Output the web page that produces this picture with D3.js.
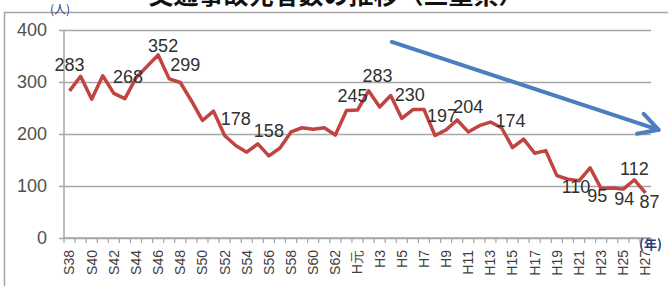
<!DOCTYPE html>
<html>
<head>
<meta charset="utf-8">
<script src="https://cdn.jsdelivr.net/npm/d3@7"></script>
<style>
  html, body { margin: 0; padding: 0; background: #fff; overflow: hidden; }
  text { font-family: "Liberation Sans", Arial, sans-serif; }
</style>
</head>
<body>
<script>
'use strict';

// years (showa / heisei), one per point
const years = ["S38","S39","S40","S41","S42","S43","S44","S45","S46","S47","S48","S49","S50",
  "S51","S52","S53","S54","S55","S56","S57","S58","S59","S60","S61","S62","S63",
  "H元","H2","H3","H4","H5","H6","H7","H8","H9","H10","H11","H12","H13","H14","H15",
  "H16","H17","H18","H19","H20","H21","H22","H23","H24","H25","H26","H27"];

// traffic deaths per year (persons)
const deaths = [283,311,267,312,278,268,308,330,352,306,299,264,226,244,197,
  178,165,181,158,173,204,212,209,212,198,245,246,283,252,274,230,247,247,197,
  208,227,204,216,223,212,174,190,163,168,120,113,110,135,95,96,94,112,87];

// indexes of points that carry a value label
const labelIdx = [0,5,8,10,15,18,25,27,30,33,36,40,46,48,50,51,52];

const yTicks = [0,100,200,300,400];

// trend arrow, in (year index, persons)
const trendArrow = [[29.1, 377], [53.2, 208]];

// label nudges (px), same order as labelIdx
const labelNudge = [[0,-20],[3,-16],[5,-3],[5,-12],[0,-20],[0,-19],[6,-9],[9,-9],
  [8,-17],[7,-14],[0,-19],[-2,-21],[-3,12],[-4,13],[1,16],[0,-5],[4,15]];

const W = 668, H = 286;
const plot = {left: 64, right: 651, top: 30, bottom: 238};

const svg = d3.select('body').append('svg')
  .attr('width', W)
  .attr('height', H);

// outer frame
svg.append('rect')
  .attr('x', 4.5).attr('y', 12.5)
  .attr('width', 720).attr('height', 320)
  .attr('fill', 'none')
  .attr('stroke', '#a6a6a6')
  .attr('stroke-width', 1.5);

// title, mostly cut off at the top (as in the source picture)
svg.append('text')
  .attr('x', 336)
  .attr('y', 4)
  .attr('text-anchor', 'middle')
  .style('font-family', '"Noto Sans CJK JP", sans-serif')
  .style('font-size', '25px')
  .style('font-weight', 'bold')
  .attr('fill', '#111')
  .text('交通事故死者数の推移（三重県）');

const x = d3.scaleBand()
  .domain(years)
  .range([plot.left, plot.right])
  .padding(0);

const y = d3.scaleLinear()
  .domain([0, 400])
  .range([plot.bottom, plot.top]);

function xAt(i) { return plot.left + (i + 0.5) * x.step(); }

// y axis with gridlines
const yAxis = d3.axisLeft(y)
  .tickValues(yTicks)
  .tickSize(-(plot.right - plot.left + 5))
  .tickPadding(12);

const gy = svg.append('g')
  .attr('transform', 'translate(' + (plot.left - 5) + ',0)')
  .call(yAxis);
gy.select('.domain').remove();
gy.selectAll('line').attr('stroke', '#a6a6a6').attr('stroke-width', 1.5);
gy.selectAll('text')
  .attr('fill', '#505050')
  .style('font-size', '18px');

// y axis line
svg.append('line')
  .attr('x1', plot.left).attr('x2', plot.left)
  .attr('y1', plot.top).attr('y2', plot.bottom)
  .attr('stroke', '#a6a6a6').attr('stroke-width', 1.5);

// x axis: boundary ticks + rotated labels
const gx = svg.append('g');
gx.append('line')
  .attr('x1', plot.left).attr('x2', plot.right)
  .attr('y1', plot.bottom).attr('y2', plot.bottom)
  .attr('stroke', '#a6a6a6').attr('stroke-width', 1.5);

gx.selectAll('.tk')
  .data(years.concat(['end']))
  .enter()
  .append('line')
    .attr('class', 'tk')
    .attr('x1', d => d === 'end' ? plot.right : x(d))
    .attr('x2', d => d === 'end' ? plot.right : x(d))
    .attr('y1', plot.bottom)
    .attr('y2', plot.bottom + 5)
    .attr('stroke', '#a6a6a6')
    .attr('stroke-width', 1.2);

gx.selectAll('.xl')
  .data(years.filter((d, i) => i % 2 === 0))
  .enter()
  .append('text')
    .attr('class', 'xl')
    .attr('transform', d => 'translate(' + (x(d) + x.bandwidth() / 2) + ',' + (plot.bottom + 12) + ')rotate(-90)')
    .attr('text-anchor', 'end')
    .attr('dy', '0.35em')
    .attr('fill', '#404040')
    .style('font-size', '14px')
    .text(d => d);

// unit labels
svg.append('text')
  .attr('x', 50).attr('y', 14)
  .attr('fill', '#1f3c78')
  .style('font-family', '"Noto Sans CJK JP", sans-serif')
  .style('font-size', '12px')
  .text('(人)');

svg.append('text')
  .attr('x', 639).attr('y', 249)
  .attr('fill', '#1f3c78')
  .style('font-family', '"Noto Sans CJK JP", sans-serif')
  .style('font-size', '13px')
  .style('font-weight', 'bold')
  .text('(年)');

// main line
const line = d3.line()
  .x((d, i) => xAt(i))
  .y(d => y(d));

svg.append('path')
  .datum(deaths)
  .attr('fill', 'none')
  .attr('stroke', '#c0443f')
  .attr('stroke-width', 3.5)
  .attr('stroke-linejoin', 'round')
  .attr('d', line);

// value labels
svg.selectAll('.vl')
  .data(labelIdx)
  .enter()
  .append('text')
    .attr('class', 'vl')
    .attr('x', (d, k) => xAt(d) + labelNudge[k][0])
    .attr('y', (d, k) => y(deaths[d]) + labelNudge[k][1])
    .attr('text-anchor', 'middle')
    .attr('fill', '#303030')
    .style('font-size', '18px')
    .text(d => deaths[d]);

// trend arrow
const p0 = [xAt(trendArrow[0][0]), y(trendArrow[0][1])];
const p1 = [xAt(trendArrow[1][0]), y(trendArrow[1][1])];
const ang = Math.atan2(p1[1] - p0[1], p1[0] - p0[0]);
const wing = 22, spread = 0.5;
const w1 = [p1[0] - wing * Math.cos(ang - spread), p1[1] - wing * Math.sin(ang - spread)];
const w2 = [p1[0] - wing * Math.cos(ang + spread), p1[1] - wing * Math.sin(ang + spread)];

svg.append('path')
  .attr('d', d3.line()([p0, p1]) + 'M' + w1 + 'L' + p1 + 'L' + w2)
  .attr('fill', 'none')
  .attr('stroke', '#4a7ebf')
  .attr('stroke-width', 4)
  .attr('stroke-linecap', 'round')
  .attr('stroke-linejoin', 'round');
</script>
</body>
</html>
